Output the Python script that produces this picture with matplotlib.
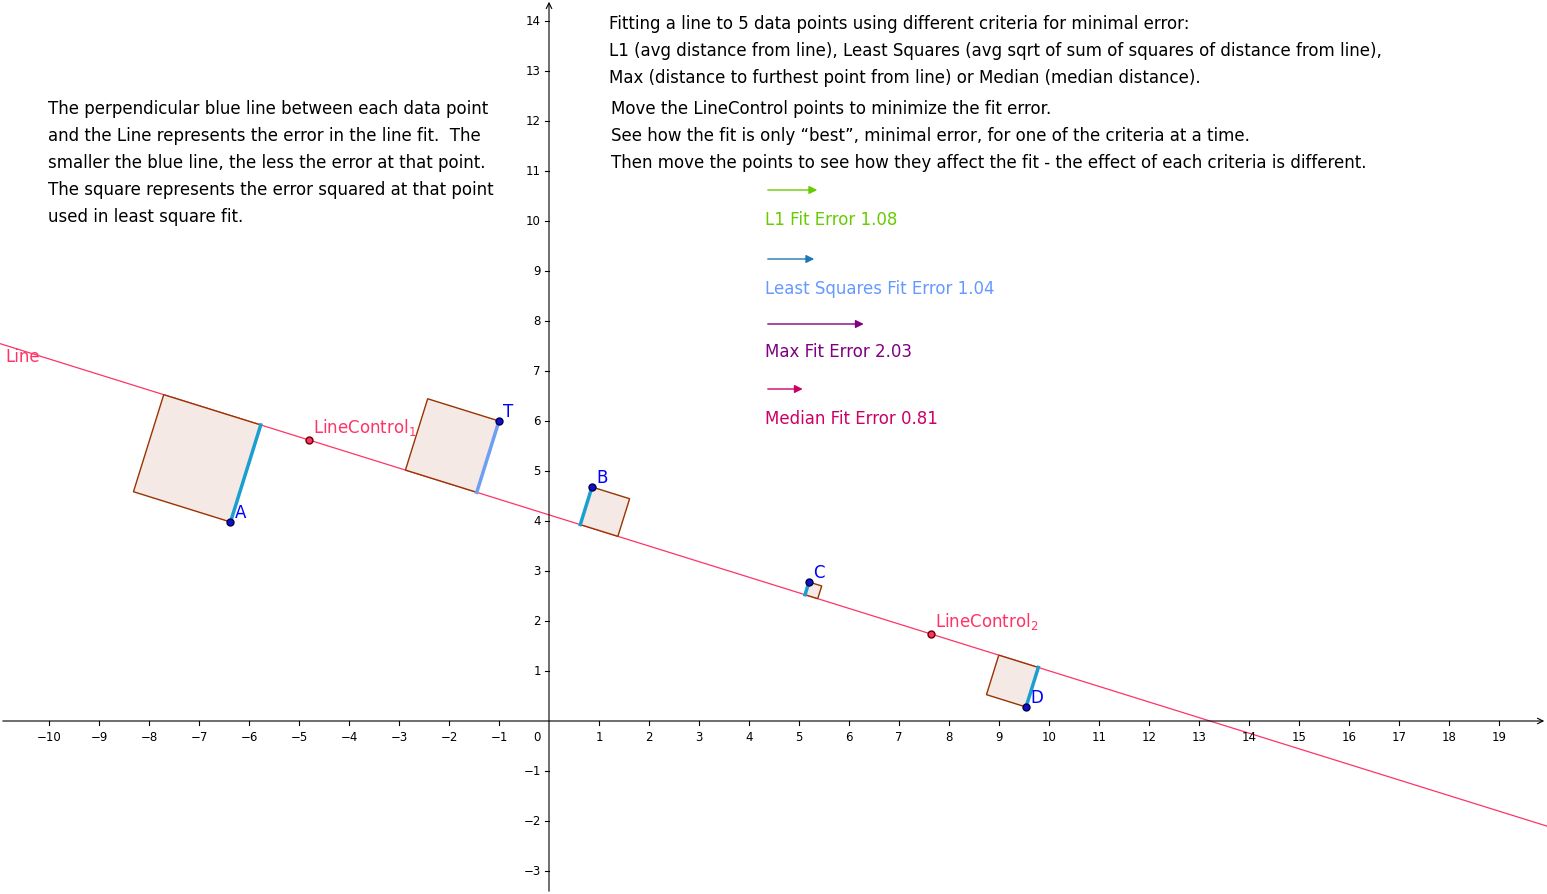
import matplotlib
matplotlib.use("Agg")
import matplotlib.pyplot as plt
import numpy as np
from matplotlib.patches import Polygon

# data
point_names = ["A", "T", "B", "C", "D"]
point_x = [-6.37, -1.0, 0.86, 5.2, 9.54]
point_y = [3.98, 6.0, 4.68, 2.78, 0.28]
square_side = [-1, -1, 1, 1, -1]  # direction along line the square extends
ctrl_names = ["LineControl$_1$", "LineControl$_2$"]
ctrl_x = [-4.8, 7.64]
ctrl_y = [5.62, 1.74]
x_ticks = [t for t in range(-10, 20) if t != 0]
y_ticks = [t for t in range(-3, 15) if t != 0]
err_labels = ["L1 Fit Error 1.08", "Least Squares Fit Error 1.04", "Max Fit Error 2.03", "Median Fit Error 0.81"]
err_lengths = [1.1, 1.04, 2.03, 0.81]
err_colors = ["#66cc00", "#6699ff", "#800080", "#cc0066"]
arrow_colors = ["#66cc00", "#1f77b4", "#800080", "#cc0066"]

fig = plt.figure(figsize=(15.47, 8.95), dpi=100)
ax = fig.add_axes([0, 0, 1, 1])
xmin, xmax, ymin, ymax = -10.98, 19.96, -3.46, 14.44
ax.set_xlim(xmin, xmax); ax.set_ylim(ymin, ymax)
ax.axis("off")

# axes
ax.annotate("", xy=(xmax, 0), xytext=(xmin, 0), arrowprops=dict(arrowstyle="->", lw=0.8, color="black"))
ax.annotate("", xy=(0, ymax), xytext=(0, ymin), arrowprops=dict(arrowstyle="->", lw=0.8, color="black"))
for t in x_ticks:
    ax.plot([t, t], [0, -0.08], color="black", lw=0.8)
    ax.text(t, -0.18, f"{t}".replace("-", "\u2212"), ha="center", va="top", fontsize=8.5)
for t in y_ticks:
    ax.plot([0, -0.08], [t, t], color="black", lw=0.8)
    ax.text(-0.16, t, f"{t}".replace("-", "\u2212"), ha="right", va="center", fontsize=8.5)
ax.text(-0.16, -0.18, "0", ha="right", va="top", fontsize=8.5)

# line
p1 = np.array([ctrl_x[0], ctrl_y[0]]); p2 = np.array([ctrl_x[1], ctrl_y[1]])
u = (p2 - p1) / np.linalg.norm(p2 - p1)
xs = np.array([xmin, xmax])
m = u[1] / u[0]
ax.plot(xs, p1[1] + m * (xs - p1[0]), color="#ff3366", lw=0.9, zorder=2)
ax.text(-10.88, 7.3, "Line", color="#ff3366", fontsize=12, va="center")

for name, x, y, s in zip(point_names, point_x, point_y, square_side):
    P = np.array([x, y])
    F = p1 + np.dot(P - p1, u) * u
    d = np.linalg.norm(P - F)
    sq = [P, F, F + s * d * u, P + s * d * u]
    ax.add_patch(Polygon(sq, closed=True, facecolor="#f5e9e5", edgecolor="#993300", lw=1, zorder=3))
    col = "#6f9ff0" if name == "T" else "#1a9fd0"
    ax.plot([P[0], F[0]], [P[1], F[1]], color=col, lw=2.5, zorder=4)
    ax.plot(x, y, "o", ms=5, color="#1010cc", mec="#000044", zorder=5)
    ax.text(x + 0.08, y + 0.1, name, color="#0000ff", fontsize=12, zorder=6)

for name, x, y in zip(ctrl_names, ctrl_x, ctrl_y):
    ax.plot(x, y, "o", ms=5, color="#ff3366", mec="#660000", zorder=5)
    ax.text(x + 0.08, y + 0.05, name, color="#ff3366", fontsize=12, va="bottom", zorder=6)

# error arrows + labels
ay = [10.62, 9.24, 7.94, 6.64]
ty = [10.04, 8.66, 7.4, 6.06]
for lab, L, c, ac, a, t in zip(err_labels, err_lengths, err_colors, arrow_colors, ay, ty):
    ax.annotate("", xy=(4.32 + L, a), xytext=(4.32, a),
                arrowprops=dict(arrowstyle="-|>", lw=1, color=ac, mutation_scale=12))
    ax.text(4.32, t, lab, color=c, fontsize=12, va="center")

top = ["Fitting a line to 5 data points using different criteria for minimal error:",
       "L1 (avg distance from line), Least Squares (avg sqrt of sum of squares of distance from line),",
       "Max (distance to furthest point from line) or Median (median distance)."]
for i, s in enumerate(top):
    ax.text(1.2, 13.96 - 0.54 * i, s, fontsize=12, va="center")
mid = ["Move the LineControl points to minimize the fit error.",
       "See how the fit is only \u201cbest\u201d, minimal error, for one of the criteria at a time.",
       "Then move the points to see how they affect the fit - the effect of each criteria is different."]
for i, s in enumerate(mid):
    ax.text(1.24, 12.26 - 0.54 * i, s, fontsize=12, va="center")
left = ["The perpendicular blue line between each data point",
        "and the Line represents the error in the line fit.  The",
        "smaller the blue line, the less the error at that point.",
        "The square represents the error squared at that point",
        "used in least square fit."]
for i, s in enumerate(left):
    ax.text(-10.02, 12.26 - 0.54 * i, s, fontsize=12, va="center")

fig.savefig("out.png", dpi=100)
